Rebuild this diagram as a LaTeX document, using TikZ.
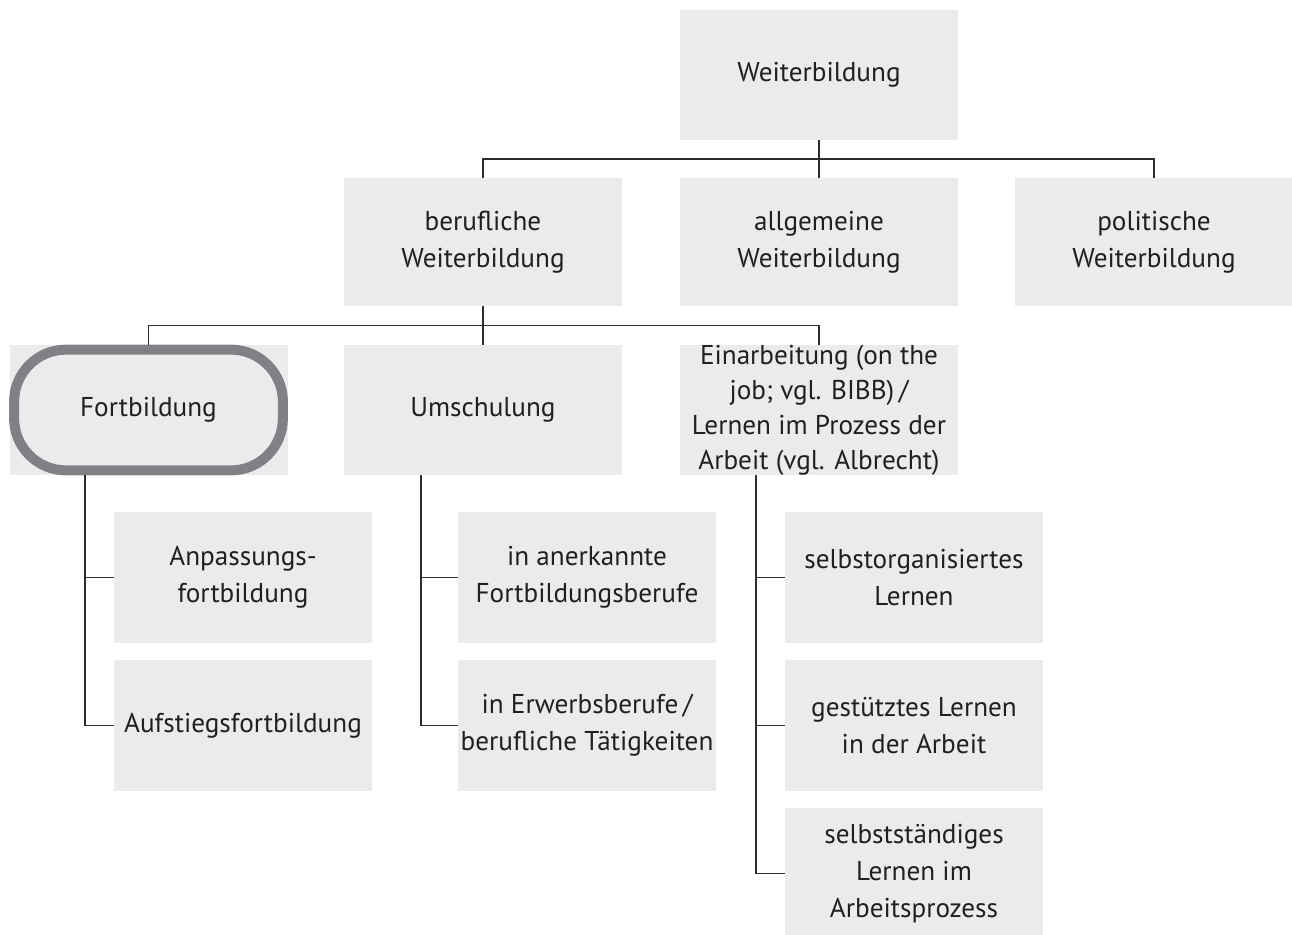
\documentclass[tikz,border=0pt]{standalone}
\usepackage{fontspec}
\setmainfont{PT Sans}
\usepackage{tikz}
\usetikzlibrary{calc}
\definecolor{boxgray}{RGB}{235,235,237}
\definecolor{ringgray}{RGB}{128,129,132}
\definecolor{linegray}{RGB}{45,45,45}
\definecolor{textgray}{RGB}{35,31,32}
\tikzset{
  box/.style={fill=boxgray, inner sep=0pt, align=center, text=textgray,
    font=\fontsize{13.6}{18.5}\selectfont, minimum width=139pt, minimum height=65pt},
  subbox/.style={box, minimum width=129pt, minimum height=65.5pt},
  link/.style={draw=linegray, line width=0.65pt}
}

\begin{document}
\begin{tikzpicture}[x=0.5pt, y=-0.5pt]
      \useasboundingbox (0,0) rectangle (1292,934);
      % top level
      \node[box] (weiter) at (819,75) {Weiterbildung};
      % second level
      \node[box, minimum height=64pt] (beruf) at (483,242) {berufliche\\Weiterbildung};
      \node[box, minimum height=64pt] (allg) at (819,242) {allgemeine\\Weiterbildung};
      \node[box, minimum height=64pt] (polit) at (1154,242) {politische\\Weiterbildung};
      % third level
      \node[box] (fort) at (148.5,410) {Fortbildung};
      \node[box] (umsch) at (483,410) {Umschulung};
      \node[box, inner ysep=-3pt, font=\fontsize{13.6}{17.5}\selectfont] (einarb) at (819,410) {Einarbeitung (on the\\job; vgl. BIBB)\,/\\Lernen im Prozess der\\Arbeit (vgl. Albrecht)};
      % highlight ring
      \draw [ringgray, line width=5pt, rounded corners=26pt] ([shift={(2.5pt,-2.5pt)}]fort.north west) rectangle ([shift={(-2.5pt,2.5pt)}]fort.south east);
      % leaves
      \node[subbox] (anpass) at (243,577.5) {Anpassungs-\\fortbildung};
      \node[subbox] (aufst) at (243,725.5) {Aufstiegsfortbildung};
      \node[subbox] (anerk) at (587,577.5) {in anerkannte\\Fortbildungsberufe};
      \node[subbox] (erwerb) at (587,725.5) {in Erwerbsberufe\,/\\berufliche Tätigkeiten};
      \node[subbox] (selborg) at (914,577.5) {selbstorganisiertes\\Lernen};
      \node[subbox] (gestuetzt) at (914,725.5) {gestütztes Lernen\\in der Arbeit};
      \node[subbox] (selbst) at (914,873.5) {selbstständiges\\Lernen im\\Arbeitsprozess};
      % tree lines
      \draw [link] (weiter.south) -- (allg.north);
      \draw [link] (beruf.north) |- ($(weiter.south)!.5!(allg.north)$) -| (polit.north);
      \draw [link] (beruf.south) -- (umsch.north);
      \draw [link] (fort.north) |- ($(beruf.south)!.5!(umsch.north)$) -| (einarb.north);
      % branches
      \draw [link] ([xshift=-31.75pt]fort.south) |- (anpass.west);
      \draw [link] ([xshift=-31.75pt]fort.south) |- (aufst.west);
      \draw [link] ([xshift=-31pt]umsch.south) |- (anerk.west);
      \draw [link] ([xshift=-31pt]umsch.south) |- (erwerb.west);
      \draw [link] ([xshift=-31.5pt]einarb.south) |- (selborg.west);
      \draw [link] ([xshift=-31.5pt]einarb.south) |- (gestuetzt.west);
      \draw [link] ([xshift=-31.5pt]einarb.south) |- (selbst.west);
    \end{tikzpicture}
\end{document}
